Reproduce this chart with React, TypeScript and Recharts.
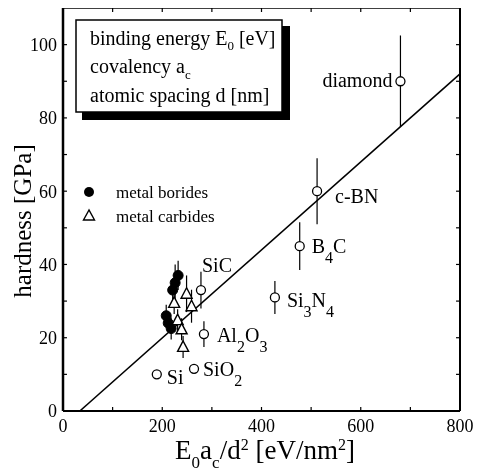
import { ScatterChart, Scatter, XAxis, YAxis, ErrorBar, ReferenceLine } from 'recharts'

const SERIF = "'Liberation Serif', 'Times New Roman', serif"

// open circles: covalent / ionic compounds
const COMPOUNDS = ['diamond', 'c-BN', 'B4C', 'Si3N4', 'SiC', 'Al2O3', 'SiO2', 'Si']
const COMPOUND_E = [680, 512, 477, 427, 278, 284, 264, 189]
const COMPOUND_H = [90, 60, 45, 31, 33, 21, 11.5, 10]
const COMPOUND_ERR = [12.5, 9, 6.5, 4.5, 5, 3.5, 0, 0]

// filled circles: metal borides
const BORIDE_E = [232, 226, 221, 208, 212, 218]
const BORIDE_H = [37, 35, 33, 26, 24, 22.5]
const BORIDE_ERR = [4, 5, 3, 3, 2, 3]

// open triangles: metal carbides
const CARBIDE_E = [249, 224, 259, 231, 239, 242]
const CARBIDE_H = [32, 29.5, 28.6, 24.8, 22.3, 17.5]
const CARBIDE_ERR = [5, 3, 4.5, 3, 3, 3]

// linear fit
const FIT_E = [34, 800]
const FIT_H = [0, 92]

const X_MAX = 800
const Y_MAX = 110
const X_TICKS = [0, 200, 400, 600, 800]
const X_MINOR = [100, 200, 300, 400, 500, 600, 700]
const Y_TICKS = [0, 20, 40, 60, 80, 100]
const Y_MINOR = [10, 20, 30, 40, 50, 60, 70, 80, 90, 100]

const compounds = COMPOUNDS.map((name, i) => ({ name, x: COMPOUND_E[i], y: COMPOUND_H[i], err: COMPOUND_ERR[i] }))
const borides = BORIDE_E.map((x, i) => ({ x, y: BORIDE_H[i], err: BORIDE_ERR[i] }))
const carbides = CARBIDE_E.map((x, i) => ({ x, y: CARBIDE_H[i], err: CARBIDE_ERR[i] }))

// inward tick marks are about 4px: in data units along each axis
const TICK_X = 8
const TICK_Y = 1.1

// where each compound name sits relative to its marker
const LABEL_POS: Record<string, { dx: number; dy: number; anchor: 'start' | 'end' }> = {
  diamond: { dx: -8, dy: 6, anchor: 'end' },
  'c-BN': { dx: 18, dy: 12, anchor: 'start' },
  B4C: { dx: 12, dy: 7, anchor: 'start' },
  Si3N4: { dx: 12, dy: 10, anchor: 'start' },
  SiC: { dx: 1, dy: -18, anchor: 'start' },
  Al2O3: { dx: 13, dy: 8, anchor: 'start' },
  SiO2: { dx: 9, dy: 7, anchor: 'start' },
  Si: { dx: 10, dy: 10, anchor: 'start' },
}

// digits in formulas are subscripts
function formulaSpans(label: string) {
  const parts = label.split(/(\d)/).filter((p) => p !== '')
  let lowered = false
  return parts.map((p, i) => {
    const isSub = /^\d$/.test(p)
    const dy = isSub && !lowered ? 10 : !isSub && lowered ? -10 : 0
    lowered = isSub
    return (
      <tspan key={i} dy={dy} fontSize={isSub ? 16 : 20}>
        {p}
      </tspan>
    )
  })
}

const OpenCircle = (props: any) => {
  const { cx, cy, payload } = props
  const pos = LABEL_POS[payload.name]
  return (
    <g>
      <circle cx={cx} cy={cy} r={4.5} fill="#fff" stroke="#000" strokeWidth={1.3} />
      <text x={cx + pos.dx} y={cy + pos.dy} textAnchor={pos.anchor} fontFamily={SERIF} fontSize={20} fill="#000">
        {formulaSpans(payload.name)}
      </text>
    </g>
  )
}

const FilledCircle = (props: any) => (
  <circle cx={props.cx} cy={props.cy} r={5} fill="#000" stroke="#000" />
)

const Triangle = (props: any) => {
  const { cx, cy } = props
  return (
    <polygon
      points={`${cx},${cy - 6} ${cx - 5.5},${cy + 4.5} ${cx + 5.5},${cy + 4.5}`}
      fill="#fff"
      stroke="#000"
      strokeWidth={1.4}
    />
  )
}

const tickFont = { fill: '#000', fontSize: 18, fontFamily: SERIF }

export default function App() {
  const ax = { xAxisId: 'x', yAxisId: 'y', stroke: '#000', ifOverflow: 'visible' as const }
  return (
    <div style={{ position: 'fixed', left: 8, top: 8, width: 469, height: 467 }}>
      <ScatterChart width={469} height={467} margin={{ top: 0, right: 17, bottom: 34, left: 8 }}>
        <XAxis
          xAxisId="x"
          dataKey="x"
          type="number"
          domain={[0, X_MAX]}
          ticks={X_TICKS}
          tickLine={false}
          tickSize={0}
          tickMargin={8}
          height={30}
          axisLine={{ stroke: '#000', strokeWidth: 2 }}
          tick={tickFont}
          allowDataOverflow
        />
        <YAxis
          yAxisId="y"
          dataKey="y"
          type="number"
          domain={[0, Y_MAX]}
          ticks={Y_TICKS}
          tickLine={false}
          tickSize={0}
          tickMargin={6}
          width={47}
          axisLine={{ stroke: '#000', strokeWidth: 2.5 }}
          tick={tickFont}
          allowDataOverflow
        />

        {/* top and right frame */}
        <ReferenceLine {...ax} y={Y_MAX} strokeWidth={1.5} />
        <ReferenceLine {...ax} x={X_MAX} strokeWidth={2} />

        {/* inward ticks on all four sides */}
        {X_MINOR.map((v) => (
          <ReferenceLine key={`b${v}`} {...ax} strokeWidth={1.2} segment={[{ x: v, y: 0 }, { x: v, y: TICK_Y }]} />
        ))}
        {X_MINOR.map((v) => (
          <ReferenceLine key={`t${v}`} {...ax} strokeWidth={1.2} segment={[{ x: v, y: Y_MAX }, { x: v, y: Y_MAX - TICK_Y }]} />
        ))}
        {Y_MINOR.map((v) => (
          <ReferenceLine key={`l${v}`} {...ax} strokeWidth={1.2} segment={[{ x: 0, y: v }, { x: TICK_X, y: v }]} />
        ))}
        {Y_MINOR.map((v) => (
          <ReferenceLine key={`r${v}`} {...ax} strokeWidth={1.2} segment={[{ x: X_MAX, y: v }, { x: X_MAX - TICK_X, y: v }]} />
        ))}

        <ReferenceLine
          {...ax}
          segment={[
            { x: FIT_E[0], y: FIT_H[0] },
            { x: FIT_E[1], y: FIT_H[1] },
          ]}
          strokeWidth={1.6}
        />

        <Scatter xAxisId="x" yAxisId="y" data={borides} shape={FilledCircle} isAnimationActive={false}>
          <ErrorBar dataKey="err" direction="y" width={0} stroke="#000" strokeWidth={1.2} />
        </Scatter>
        <Scatter xAxisId="x" yAxisId="y" data={carbides} shape={Triangle} isAnimationActive={false}>
          <ErrorBar dataKey="err" direction="y" width={0} stroke="#000" strokeWidth={1.2} />
        </Scatter>
        <Scatter xAxisId="x" yAxisId="y" data={compounds} shape={OpenCircle} isAnimationActive={false}>
          <ErrorBar dataKey="err" direction="y" width={0} stroke="#000" strokeWidth={1.2} />
        </Scatter>
      </ScatterChart>

      <svg
        width={469}
        height={467}
        style={{ position: 'absolute', left: 0, top: 0, pointerEvents: 'none' }}
        fontFamily={SERIF}
        fill="#000"
      >
        {/* parameter box with drop shadow */}
        <rect x={74} y={18} width={208} height={94} fill="#000" />
        <rect x={68} y={12} width={206} height={92} fill="#fff" stroke="#000" strokeWidth={1.5} />
        <text x={82} y={37} fontSize={20}>
          binding energy E<tspan dy={5} fontSize={13}>0</tspan>
          <tspan dy={-5}> [eV]</tspan>
        </text>
        <text x={82} y={65} fontSize={20}>
          covalency a<tspan dy={6} fontSize={13}>c</tspan>
        </text>
        <text x={82} y={94} fontSize={20}>
          atomic spacing d [nm]
        </text>

        {/* series key */}
        <circle cx={81} cy={184} r={5} fill="#000" />
        <text x={108} y={190} fontSize={17}>metal borides</text>
        <polygon points="81,202 75.5,212 86.5,212" fill="#fff" stroke="#000" strokeWidth={1.4} />
        <text x={108} y={214} fontSize={17}>metal carbides</text>

        {/* axis titles */}
        <text x={23} y={213} fontSize={25} textAnchor="middle" transform="rotate(-90, 23, 213)">
          hardness [GPa]
        </text>
        <text x={257} y={451} fontSize={27} textAnchor="middle">
          E<tspan dy={9} fontSize={17}>0</tspan>
          <tspan dy={-9}>a</tspan>
          <tspan dy={9} fontSize={17}>c</tspan>
          <tspan dy={-9}>/d</tspan>
          <tspan dy={-9} fontSize={16}>2</tspan>
          <tspan dy={9}> [eV/nm</tspan>
          <tspan dy={-9} fontSize={16}>2</tspan>
          <tspan dy={9}>]</tspan>
        </text>
      </svg>
    </div>
  )
}
